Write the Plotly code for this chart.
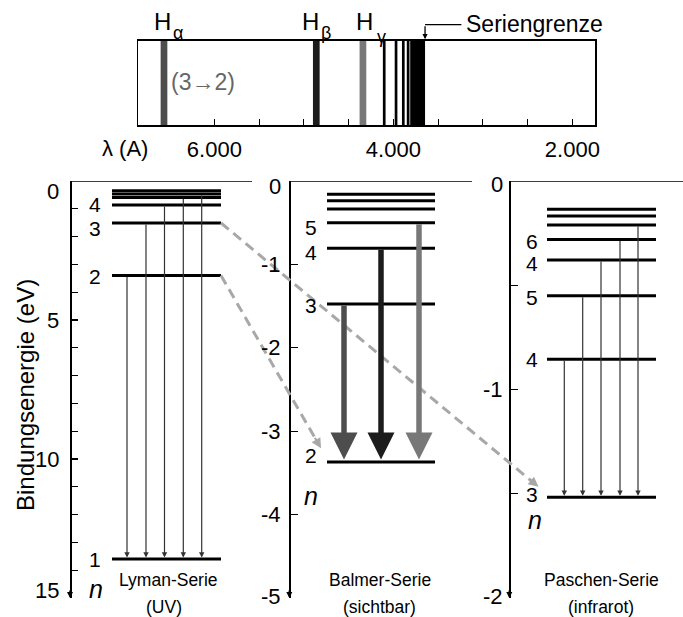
import plotly.graph_objects as go

W, H = 683, 617
FONT = "Liberation Sans, Arial, sans-serif"

# ---------------- data ----------------
# Balmer spectrum (wavelength in Angstrom); last entry = merged lines up to the series limit
spec_lambda = [6563, 4861, 4340, 4102, 3970, 3889, 3835, 3729]
spec_width = [75, 75, 75, 30, 30, 30, 30, 166]
spec_color = ["#4d4d4d", "#1c1c1c", "#787878", "#000000", "#000000", "#000000", "#000000", "#000000"]
series_limit = 3646
spec_tickvals = [6000, 5500, 5000, 4500, 4000, 3500, 3000, 2500, 2000]
spec_ticktext = ["6.000", "", "", "", "4.000", "", "", "", "2.000"]
line_subs = ["α", "β", "γ"]

# Lyman series (binding energy, eV, drawn positive downward)
lyman_levels = [13.6, 3.4, 1.51, 0.86, 0.59, 0.47, 0.35]
lyman_labels = ["1", "2", "3", "4"]
lyman_from = [3.4, 1.51, 0.86, 0.59, 0.47]
lyman_to = 13.6
lyman_tickvals = list(range(0, 16))
lyman_labelvals = [0, 5, 10, 15]
lyman_ticklabels = ["0", "5", "10", "15"]

# Balmer series (eV)
balmer_levels = [-3.37, -1.475, -0.807, -0.50, -0.336, -0.236, -0.16]
balmer_labels = ["2", "3", "4", "5"]
balmer_from = [-1.475, -0.807, -0.50]
balmer_to = -3.37
balmer_tickvals = [0, -1, -2, -3, -4, -5]
balmer_labelvals = [0, -1, -2, -3, -4, -5]
balmer_ticklabels = ["0", "-1", "-2", "-3", "-4", "-5"]

# Paschen series (eV)
paschen_levels = [-1.517, -0.855, -0.55, -0.379, -0.28, -0.211, -0.168, -0.136]
paschen_labels = ["3", "4", "5", "4", "6"]
paschen_from = [-0.855, -0.55, -0.379, -0.28, -0.211]
paschen_to = -1.517
paschen_tickvals = [0, -0.5, -1, -1.5, -2]
paschen_labelvals = [0, -1, -2]
paschen_ticklabels = ["0", "-1", "-2"]

# ---------------- layout constants (pixels) ----------------
SPEC_L, SPEC_R, SPEC_T, SPEC_B = 138.3, 595, 40.7, 125.3
TOP, BOT = 181, 598


def pxx(x):
    return x / W


def pxy(y):
    return 1 - y / H


panels = [
    dict(yref="y2", rng=[15, 0], axis_x=70, top_end=252, lvl=(112, 221),
         levels=lyman_levels, labels=lyman_labels, label_x=103, label_dy=[0, 1, 6, 0],
         arr_x=[127, 146, 164.5, 183.3, 201.7], arr_from=lyman_from, arr_to=lyman_to,
         arr_col=["#333333"] * 5, arr_w=1.2, arr_size=0.9, standoff=1.5,
         tickvals=lyman_tickvals, labelvals=lyman_labelvals, ticklabels=lyman_ticklabels,
         tl_x=61, tl_dy=[10, 0, 0, -8], ticklen=6,
         n_pos=(96, 589), name=("Lyman-Serie", "(UV)"), name_x=(168, 164)),
    dict(yref="y3", rng=[-5, 0], axis_x=289.3, top_end=472, lvl=(327, 435),
         levels=balmer_levels, labels=balmer_labels, label_x=319, label_dy=[-6.5, 1.5, 4, 5],
         arr_x=[344, 381, 419], arr_from=balmer_from, arr_to=balmer_to,
         arr_col=["#4d4d4d", "#1c1c1c", "#787878"], arr_w=5.5, arr_size=0.98, standoff=2.5,
         tickvals=balmer_tickvals, labelvals=balmer_labelvals, ticklabels=balmer_ticklabels,
         tl_x=283, tl_dy=[5.5, 0, 0, 0, 0, -2], ticklen=7,
         n_pos=(311, 495.5), name=("Balmer-Serie", "(sichtbar)"), name_x=(380, 379)),
    dict(yref="y4", rng=[-2, 0], axis_x=509.3, top_end=683, lvl=(547, 656),
         levels=paschen_levels, labels=paschen_labels, label_x=540, label_dy=[-3, 0, 2, 3, 2],
         arr_x=[564.3, 582.7, 601, 620, 638], arr_from=paschen_from, arr_to=paschen_to,
         arr_col=["#333333"] * 5, arr_w=1.2, arr_size=0.9, standoff=1.5,
         tickvals=paschen_tickvals, labelvals=paschen_labelvals, ticklabels=paschen_ticklabels,
         tl_x=505, tl_dy=[3, 0, -2], ticklen=7,
         n_pos=(535, 520), name=("Paschen-Serie", "(infrarot)"), name_x=(601, 601)),
]


def ypix(E, rng):
    """pixel y of an energy value on a panel axis (all panels share the same domain)"""
    return TOP + (E - rng[1]) / (rng[0] - rng[1]) * (BOT - TOP)


def ptext(text, x, y, size, color="black", **kw):
    d = dict(text=text, x=pxx(x), y=pxy(y), xref="paper", yref="paper", showarrow=False,
             xanchor="center", yanchor="middle",
             font=dict(family=FONT, size=size, color=color))
    d.update(kw)
    return d


fig = go.Figure()
annotations = []
shapes = []

# ---------------- spectrum ----------------
fig.add_trace(go.Bar(x=spec_lambda, y=[1] * len(spec_lambda), width=spec_width,
                     marker=dict(color=spec_color, line=dict(width=0)),
                     xaxis="x", yaxis="y", hoverinfo="skip"))

# H alpha/beta/gamma labels
h_pos = [(162.5, 178.3, 33), (310.5, 325.5, 33), (364.5, 381.5, 37)]
for sub, (hx, sx, sy) in zip(line_subs, h_pos):
    annotations.append(ptext("H", hx, 22, 24))
    annotations.append(ptext(sub, sx, sy, 18))

annotations.append(ptext("(3→2)", 202.5, 82, 23, "#666666"))
annotations.append(ptext("λ (A)", 124.5, 149, 22))
annotations.append(ptext("Seriengrenze", 534, 24, 23))
# series-limit pointer
annotations.append(dict(text="", x=series_limit, y=1, xref="x", yref="y", showarrow=True,
                        ax=0, ay=-16, arrowhead=2, arrowwidth=1.3, arrowsize=0.8,
                        arrowcolor="black", standoff=1.5))
shapes.append(dict(type="line", xref="x", yref="paper", x0=series_limit, x1=3240,
                   y0=pxy(SPEC_T - 16), y1=pxy(SPEC_T - 16), line=dict(color="black", width=1.3)))

# ---------------- energy panels ----------------
for p in panels:
    yr = p["yref"]
    # top line at E = 0
    fig.add_trace(go.Scatter(x=[p["axis_x"], p["top_end"]], y=[0, 0], mode="lines",
                             line=dict(color="black", width=1.5), xaxis="x2", yaxis=yr,
                             hoverinfo="skip"))
    # levels
    xs, ys = [], []
    for E in p["levels"]:
        xs += [p["lvl"][0], p["lvl"][1], None]
        ys += [E, E, None]
    fig.add_trace(go.Scatter(x=xs, y=ys, mode="lines", line=dict(color="black", width=3),
                             xaxis="x2", yaxis=yr, hoverinfo="skip"))
    # transitions
    for ax_x, E_up, col in zip(p["arr_x"], p["arr_from"], p["arr_col"]):
        annotations.append(dict(text="", x=ax_x, y=p["arr_to"], ax=ax_x, ay=E_up,
                                xref="x2", yref=yr, axref="x2", ayref=yr, showarrow=True,
                                arrowhead=2, arrowwidth=p["arr_w"], arrowsize=p["arr_size"],
                                arrowcolor=col, standoff=p["standoff"]))
    # level labels
    for lab, E, dy in zip(p["labels"], p["levels"], p["label_dy"]):
        annotations.append(dict(text=lab, x=p["label_x"], y=E, xref="x2", yref=yr,
                                showarrow=False, xanchor="right", yanchor="middle", yshift=-dy,
                                font=dict(family=FONT, size=21, color="black")))
    # tick labels
    for lab, v, dy in zip(p["ticklabels"], p["labelvals"], p["tl_dy"]):
        annotations.append(dict(text=lab, x=p["tl_x"], y=v, xref="x2", yref=yr,
                                showarrow=False, xanchor="right", yanchor="middle", yshift=-dy,
                                font=dict(family=FONT, size=22, color="black")))
    # axis arrow at the bottom
    annotations.append(dict(text="", x=p["axis_x"], y=p["rng"][0], xref="x2", yref=yr,
                            showarrow=True, ax=0, ay=-9, arrowhead=2, arrowwidth=1.5,
                            arrowsize=0.8, arrowcolor="black", standoff=0))
    # n
    annotations.append(ptext("<i>n</i>", p["n_pos"][0], p["n_pos"][1], 25))
    # series names
    for txt, nx, ny in zip(p["name"], p["name_x"], (580, 607)):
        annotations.append(ptext(txt, nx, ny, 17.5))

# ---------------- dashed connectors ----------------
lyman, balmer, paschen = panels
connectors = [
    ((lyman["lvl"][1], ypix(lyman_levels[1], lyman["rng"])),
     (321, ypix(balmer_to + 0.165, balmer["rng"]))),
    ((lyman["lvl"][1], ypix(lyman_levels[2], lyman["rng"])),
     (538.5, ypix(paschen_to + 0.05, paschen["rng"]))),
]
for (sx, sy), (tx, ty) in connectors:
    dx, dy = tx - sx, ty - sy
    L = (dx ** 2 + dy ** 2) ** 0.5
    ux, uy = dx / L, dy / L
    bx, by = tx - 9 * ux, ty - 9 * uy
    shapes.append(dict(type="line", xref="paper", yref="paper",
                       x0=pxx(sx), y0=pxy(sy), x1=pxx(bx), y1=pxy(by),
                       line=dict(color="#a8a8a8", width=3, dash="10px,6px")))
    annotations.append(dict(text="", x=pxx(tx), y=pxy(ty), xref="paper", yref="paper",
                            showarrow=True, axref="pixel", ayref="pixel",
                            ax=-14 * ux, ay=-14 * uy, arrowhead=2, arrowwidth=2,
                            arrowsize=1.0, arrowcolor="#a8a8a8", standoff=0))

# Bindungsenergie title
annotations.append(ptext("Bindungsenergie (eV)", 25, 395, 24, textangle=-90))

axis_common = dict(showgrid=False, zeroline=False, fixedrange=True)
dom = [pxy(BOT), pxy(TOP)]
ylayout = {}
for i, p in enumerate(panels):
    key = "yaxis%d" % (i + 2)
    d = dict(domain=dom, range=p["rng"], anchor="free", position=pxx(p["axis_x"]),
             showline=True, linecolor="black", linewidth=1.5, ticks="inside",
             ticklen=p["ticklen"], tickwidth=1.2, tickcolor="black",
             tickvals=p["tickvals"], showticklabels=False, **axis_common)
    if i > 0:
        d["overlaying"] = "y2"
    ylayout[key] = d

fig.update_layout(
    width=W, height=H, margin=dict(l=0, r=0, t=0, b=0, autoexpand=False),
    paper_bgcolor="white", plot_bgcolor="rgba(0,0,0,0)", showlegend=False,
    hovermode=False,
    xaxis=dict(domain=[pxx(SPEC_L), pxx(SPEC_R)], range=[6850, 1747], anchor="y",
               showline=True, mirror=True, linecolor="black", linewidth=1.5,
               ticks="inside", ticklen=6, tickwidth=1, tickcolor="black",
               tickvals=spec_tickvals, ticktext=spec_ticktext, ticklabelstandoff=4,
               tickfont=dict(family=FONT, size=22, color="black"), **axis_common),
    yaxis=dict(domain=[pxy(SPEC_B), pxy(SPEC_T)], range=[0, 1], anchor="x",
               showline=True, mirror=True, linecolor="black", linewidth=1.5,
               showticklabels=False, ticks="", **axis_common),
    xaxis2=dict(domain=[0, 1], range=[0, W], visible=False, anchor="y2", **axis_common),
    annotations=annotations, shapes=shapes, **ylayout,
)

fig.write_html("out.html", config={"displayModeBar": False, "staticPlot": True},
               post_script="document.body.style.margin='0px';")
